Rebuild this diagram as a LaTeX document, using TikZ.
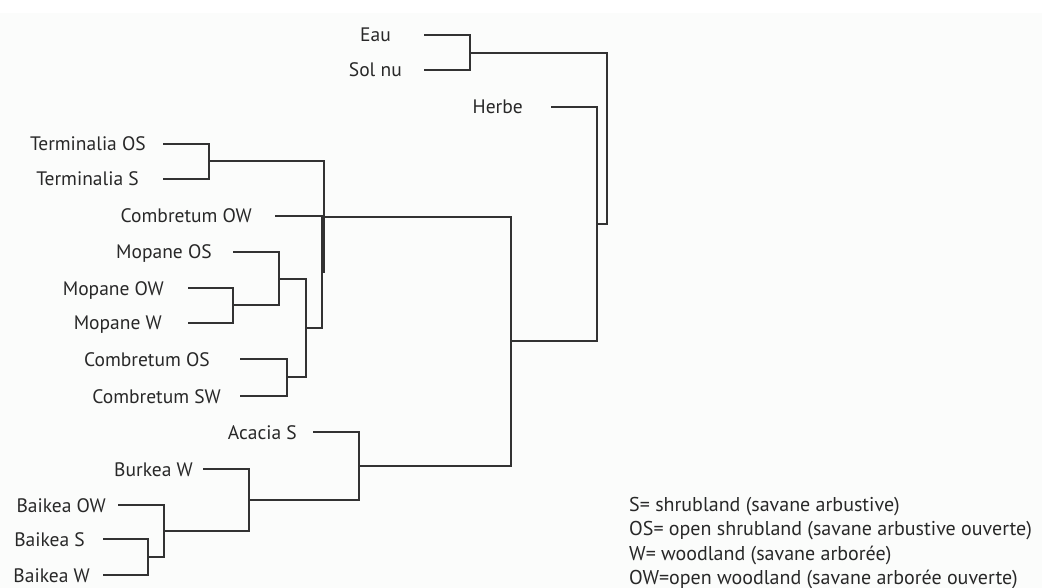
\documentclass[tikz,border=0pt]{standalone}
\usepackage{fontspec}
\setmainfont{PT Sans}
\usepackage{tikz}
\usetikzlibrary{
  positioning,
  calc
}
\definecolor{treeline}{RGB}{50,50,50}
\definecolor{labeltext}{RGB}{40,40,40}
\definecolor{pagebg}{RGB}{251,252,251}
\tikzset{
  leafnode/.style={
    inner sep=0pt, text=labeltext,
    font=\fontsize{19.5}{22}\selectfont,
    text height=14pt, text depth=0pt
  },
  branch/.style={
    draw=treeline, line width=2.2pt
  },
  legendnode/.style={
    inner sep=0pt, text=labeltext, align=left,
    font=\fontsize{20}{24.3}\selectfont
  }
}

\begin{document}
\begin{tikzpicture}[x=1pt, y=-1pt]

    \fill[pagebg] (0,13) rectangle (1042,588);
    \useasboundingbox (0,0) rectangle (1042,588);

    % leaf line starts
    \coordinate (eau) at (424,35);
    \coordinate (solnu) at (424,70);
    \coordinate (herbe) at (551,107);
    \coordinate (termOS) at (163,144);
    \coordinate (termS) at (163,179);
    \coordinate (combOW) at (275,216);
    \coordinate (mopOS) at (233,252);
    \coordinate (mopOW) at (188,288);
    \coordinate (mopW) at (188,323);
    \coordinate (combOS) at (240,359);
    \coordinate (combSW) at (240,396);
    \coordinate (acacia) at (313,432);
    \coordinate (burkea) at (203,469);
    \coordinate (baikOW) at (118,505);
    \coordinate (baikS) at (103,539);
    \coordinate (baikW) at (103,575);

    \node[leafnode, left=33pt of eau] (eauL) {Eau};
    \node[leafnode, left=22pt of solnu] (solnuL) {Sol nu};
    \node[leafnode, left=28pt of herbe] (herbeL) {Herbe};
    \node[leafnode, left=17pt of termOS] (termOSL) {Terminalia OS};
    \node[leafnode, left=24pt of termS] (termSL) {Terminalia S};
    \node[leafnode, left=23pt of combOW] (combOWL) {Combretum OW};
    \node[leafnode, left=21pt of mopOS] (mopOSL) {Mopane OS};
    \node[leafnode, left=24pt of mopOW] (mopOWL) {Mopane OW};
    \node[leafnode, left=26pt of mopW] (mopWL) {Mopane W};
    \node[leafnode, left=30pt of combOS] (combOSL) {Combretum OS};
    \node[leafnode, left=19pt of combSW] (combSWL) {Combretum SW};
    \node[leafnode, left=16pt of acacia] (acaciaL) {Acacia S};
    \node[leafnode, left=10pt of burkea] (burkeaL) {Burkea W};
    \node[leafnode, left=12pt of baikOW] (baikOWL) {Baikea OW};
    \node[leafnode, left=18pt of baikS] (baikSL) {Baikea S};
    \node[leafnode, left=13pt of baikW] (baikWL) {Baikea W};

    % junctions
    \coordinate (jes) at (470,53);
    \coordinate (jherb) at (597,224);
    \coordinate (jroot) at (607,138);
    \coordinate (jveg) at (511,341);
    \coordinate (jup) at (324,217);
    \coordinate (jterm) at (209,161);
    \coordinate (jcow) at (322,272);
    \coordinate (jmc) at (306,328);
    \coordinate (jmop) at (279,279);
    \coordinate (jmow) at (233,305);
    \coordinate (jcos) at (287,377);
    \coordinate (jlow) at (359,466);
    \coordinate (jburk) at (249,500);
    \coordinate (jbaik) at (164,531);
    \coordinate (jbsw) at (148,557);

    \draw[branch] (eau) -| (jes) |- (solnu);
    \draw[branch] (jes) -| (jroot) |- (jherb);
    \draw[branch] (herbe) -| (jherb) |- (jveg);
    \draw[branch] (jup) -| (jveg) |- (jlow);
    \draw[branch] (jterm) -| (jup) |- (jcow);
    \draw[branch] (termOS) -| (jterm) |- (termS);
    \draw[branch] (combOW) -| (jcow) |- (jmc);
    \draw[branch] (jmop) -| (jmc) |- (jcos);
    \draw[branch] (mopOS) -| (jmop) |- (jmow);
    \draw[branch] (mopOW) -| (jmow) |- (mopW);
    \draw[branch] (combOS) -| (jcos) |- (combSW);
    \draw[branch] (acacia) -| (jlow) |- (jburk);
    \draw[branch] (burkea) -| (jburk) |- (jbaik);
    \draw[branch] (baikOW) -| (jbaik) |- (jbsw);
    \draw[branch] (baikS) -| (jbsw) |- (baikW);

    \node[legendnode, anchor=north west] (legend) at (629,497) {
      S= shrubland (savane arbustive)\\
      OS= open shrubland (savane arbustive ouverte)\\
      W= woodland (savane arborée)\\
      OW=open woodland (savane arborée ouverte)
    };

  \end{tikzpicture}
\end{document}
